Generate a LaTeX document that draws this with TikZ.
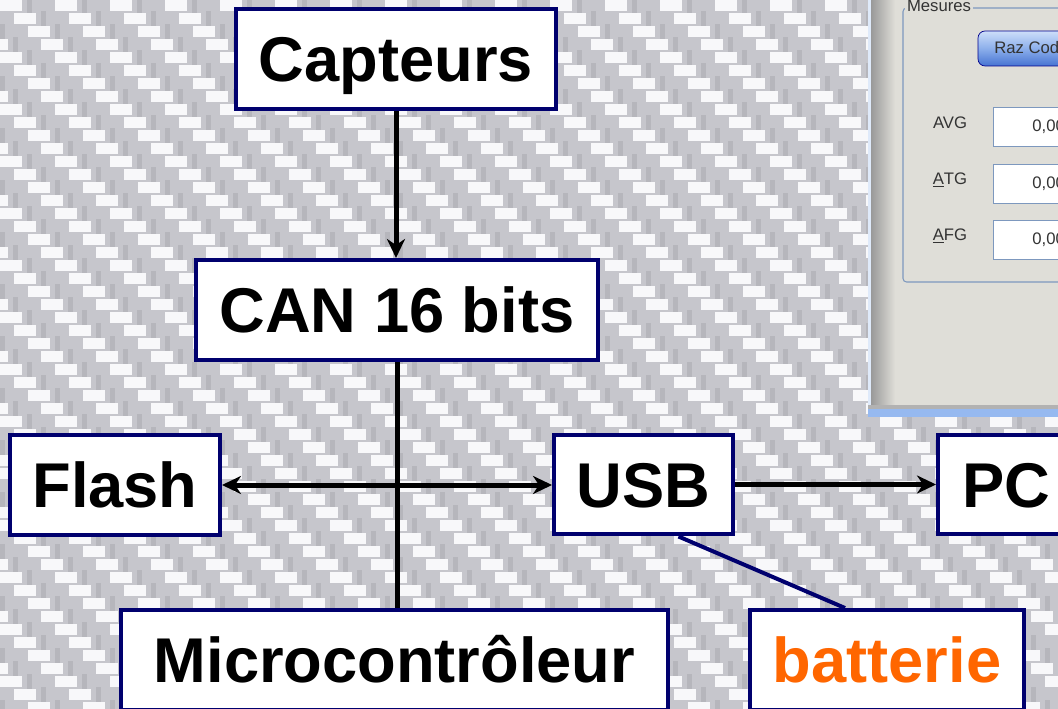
\documentclass[tikz,border=0pt]{standalone}
\usepackage{fontspec}
\setmainfont{Liberation Sans}
\usetikzlibrary{arrows.meta}

\definecolor{boxnavy}{RGB}{0,0,110}
\definecolor{battorange}{RGB}{255,102,0}
\definecolor{carbon}{RGB}{198,198,204}
\definecolor{carbondk}{RGB}{182,182,188}
\definecolor{carbonhi}{RGB}{248,248,250}
\definecolor{winpanel}{RGB}{223,222,216}
\definecolor{winline}{RGB}{125,152,190}
\definecolor{winblue}{RGB}{150,185,240}
\definecolor{btntop}{RGB}{205,222,250}
\definecolor{btnmid}{RGB}{140,175,235}
\definecolor{btnbot}{RGB}{70,115,210}

\begin{document}
\begin{tikzpicture}[x=0.02cm,y=-0.02cm,
  % common options for blocks:
  block/.style = {draw=boxnavy, line width=0.08cm, fill=white, inner sep=0,
              minimum height=2cm, font=\fontsize{36}{40}\selectfont\bfseries,
              text height=25.8pt, text depth=0pt},
  % common options for the links:
  link/.style = {line width=0.1cm},
  >={Stealth[length=0.38cm,width=0.36cm,inset=0.12cm]},
  % text of the software window:
  wintext/.style = {font=\fontsize{9.5}{11}\selectfont, text=black!80, inner sep=0}]
\clip (0,0) rectangle (1058,709);

% carbon weave
\fill[carbon] (0,0) rectangle (1058,709);
\foreach \j in {-1,...,54}{
  \foreach \i in {-1,...,19}{
    \pgfmathsetmacro\bx{\i*55+mod(\j+4,4)*13.75}
    \fill[carbondk] (\bx+27,\j*13-2) rectangle ++(5,15);
    \fill[carbonhi] (\bx,\j*13) rectangle ++(22,11);
  }
}

% software window
\fill[winpanel] (868,-5) rectangle (1070,416);
\shade[left color=black!40, right color=winpanel] (871,-5) rectangle (895,405);
\fill[white!70!winblue] (868,-5) rectangle (871,416);
\fill[black!30] (868,405) rectangle (1070,409);
\fill[winblue] (868,409) rectangle (1070,417);
\draw[winline, line width=0.6pt, rounded corners=2pt] (903,8) rectangle (1075,282);
\node[wintext, fill=winpanel, inner xsep=1pt] (mesures) at (939,6) {Mesures};
\shade[top color=btntop, bottom color=btnbot, middle color=btnmid,
  draw=blue!55!black, rounded corners=4pt] (978,31) rectangle (1090,66);
\node[wintext, anchor=west] (raz) at (994,48) {Raz Code};
\foreach \name/\lab/\y in {avg/AVG/127, atg/{\underline{A}TG}/184, afg/{\underline{A}FG}/240}{
  \draw[winline, fill=white] (993,\y-20) rectangle (1075,\y+19);
  \node[wintext, anchor=west] (val\name) at (1032,\y) {0,00};
  \node[wintext] (lab\name) at (950,\y-4) {\lab};
}

% blocks
\node[block, minimum width=6.4cm] (capteurs) at (396,59) {Capteurs};
\node[block, minimum width=8.04cm] (can) at (397,310) {CAN 16 bits};
\node[block, minimum width=4.2cm] (flash) at (115,485) {Flash};
\node[block, minimum width=3.58cm] (usb) at (643.5,484.5) {USB};
\node[block, minimum width=2.72cm] (pc) at (1006,484.5) {PC};
\node[block, minimum width=10.94cm] (micro) at (394.5,660) {Microcontrôleur};
\node[block, minimum width=5.48cm, text=battorange] (batt) at (887,660) {batterie};

% links
\draw[link,->] (capteurs.south) -- (capteurs.south |- can.north);
\draw[link] (can.south) -- (can.south |- micro.north);
\draw[link,<->] (flash.east) -- (flash.east -| usb.west);
\draw[link,->] (usb.east) -- (usb.east -| pc.west);
\draw[draw=boxnavy, line width=0.08cm] ([xshift=0.7cm]usb.south) -- ([xshift=-0.84cm]batt.north);
\end{tikzpicture}
\end{document}
